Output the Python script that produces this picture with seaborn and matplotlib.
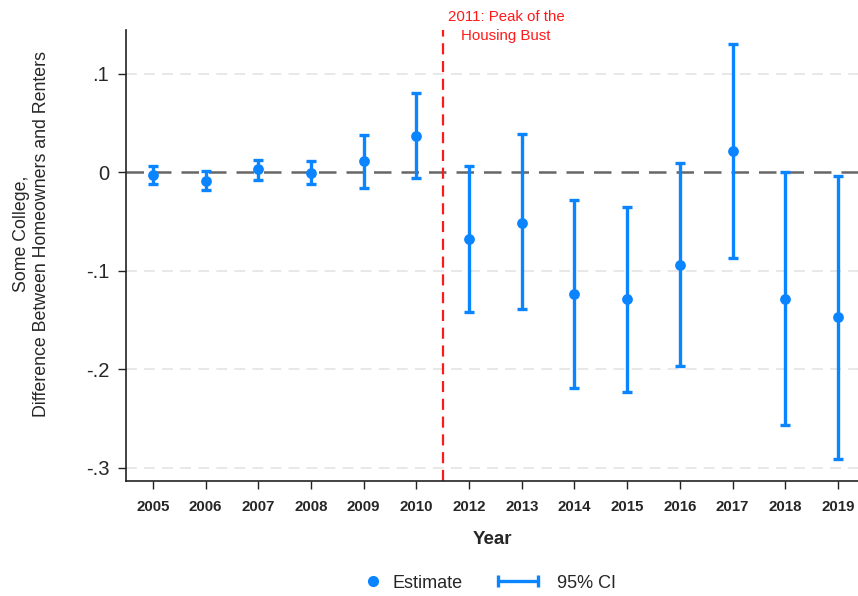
import matplotlib
matplotlib.use("Agg")
import matplotlib.pyplot as plt
from matplotlib import font_manager
from matplotlib.lines import Line2D
from matplotlib.legend_handler import HandlerLine2D
import seaborn as sns
import pandas as pd
import numpy as np

years = ["2005", "2006", "2007", "2008", "2009", "2010", "2012",
         "2013", "2014", "2015", "2016", "2017", "2018", "2019"]
estimate = [-0.003, -0.009, 0.003, -0.001, 0.011, 0.037, -0.068,
            -0.051, -0.124, -0.129, -0.094, 0.022, -0.129, -0.147]
ci_low = [-0.012, -0.018, -0.008, -0.012, -0.016, -0.006, -0.142,
          -0.139, -0.219, -0.223, -0.197, -0.087, -0.257, -0.291]
ci_high = [0.006, 0.001, 0.013, 0.011, 0.038, 0.081, 0.006,
           0.039, -0.028, -0.035, 0.009, 0.130, 0.000, -0.004]
ytick_vals = [0.1, 0.0, -0.1, -0.2, -0.3]
ytick_labels = [".1", "0", "-.1", "-.2", "-.3"]
annot_text = "2011: Peak of the\nHousing Bust"

df = pd.DataFrame({"year": years, "estimate": estimate,
                   "lo": ci_low, "hi": ci_high})
df["pos"] = range(len(df))

sns.set_theme(style="white")
names = {f.name for f in font_manager.fontManager.ttflist}
narrow = "Liberation Sans Narrow" if "Liberation Sans Narrow" in names else "Liberation Sans"
plt.rcParams["font.family"] = ["Liberation Sans", "DejaVu Sans"]

BLUE = "#0b84ff"
W, H = 858, 596

fig = plt.figure(figsize=(W / 100, H / 100), dpi=100)
ax = fig.add_axes([126/W, 1 - 481/H, 1 - 126/W, (481 - 30)/H])

# grid lines
for v in ytick_vals:
    if v != 0:
        ax.axhline(v, color="#e6e6e6", lw=1.3, ls=(0, (6, 4)), zorder=0)
ax.axhline(0, color="#666666", lw=1.8, ls=(0, (7, 4)), zorder=1)
ax.axvline(5.5, color="#ff1a1a", lw=1.6, ls=(0, (5, 3)), zorder=1)

ax.errorbar(df["pos"], df["estimate"],
            yerr=[df["estimate"] - df["lo"], df["hi"] - df["estimate"]],
            fmt="none", ecolor=BLUE, elinewidth=2.4, capsize=3.3,
            capthick=2.4, zorder=3)
sns.scatterplot(data=df, x="pos", y="estimate", ax=ax, color=BLUE,
                s=60, edgecolor=BLUE, linewidth=0, zorder=4, legend=False)

ax.set_xlim(-0.51, 13.38)
ax.set_ylim(-0.3134, 0.1445)
ax.set_xticks(df["pos"])
ax.set_xticklabels(df["year"], fontfamily=narrow, fontweight="bold", fontsize=10.8)
ax.set_yticks(ytick_vals)
ax.set_yticklabels(ytick_labels, fontsize=14.5)
ax.tick_params(axis="both", direction="out", length=6, width=1, color="#222222",
               bottom=True, left=True)
ax.tick_params(axis="x", pad=8)
ax.tick_params(axis="y", pad=6)

for s in ["top", "right"]:
    ax.spines[s].set_visible(False)
for s in ["left", "bottom"]:
    ax.spines[s].set_color("#222222")
    ax.spines[s].set_linewidth(1.2)

ax.set_xlabel("Year", fontfamily=narrow, fontweight="bold", fontsize=13.5, labelpad=12)
ax.set_ylabel("Some College,\nDifference Between Homeowners and Renters",
              fontsize=12.8, linespacing=1.25)
ax.yaxis.set_label_coords((50 - 126) / 732, (481 - 234) / 451)

ax.text(6.7, 0.131, annot_text, color="#ff1a1a", fontsize=10.8,
        fontfamily=narrow, ha="center", va="bottom", linespacing=1.45,
        clip_on=False)

h_est = Line2D([], [], ls="none", marker="o", color=BLUE, markersize=7)
h_ci = Line2D([], [], ls="-", lw=2.4, marker="|", markersize=8,
              markeredgewidth=2.4, color=BLUE)
fs = 13
px = fs * 100 / 72
fig.legend([h_est], ["Estimate"], loc="center left",
           bbox_to_anchor=(364 / W, 1 - 583 / H), frameon=False, fontsize=fs,
           borderpad=0, borderaxespad=0, handlelength=18 / px,
           handletextpad=10 / px)
fig.legend([h_ci], ["95% CI"], loc="center left",
           bbox_to_anchor=(493 / W, 1 - 583 / H), frameon=False, fontsize=fs,
           borderpad=0, borderaxespad=0, handlelength=50 / px,
           handletextpad=14 / px,
           handler_map={h_ci: HandlerLine2D(numpoints=2)})

fig.savefig("out.png", dpi=100)
